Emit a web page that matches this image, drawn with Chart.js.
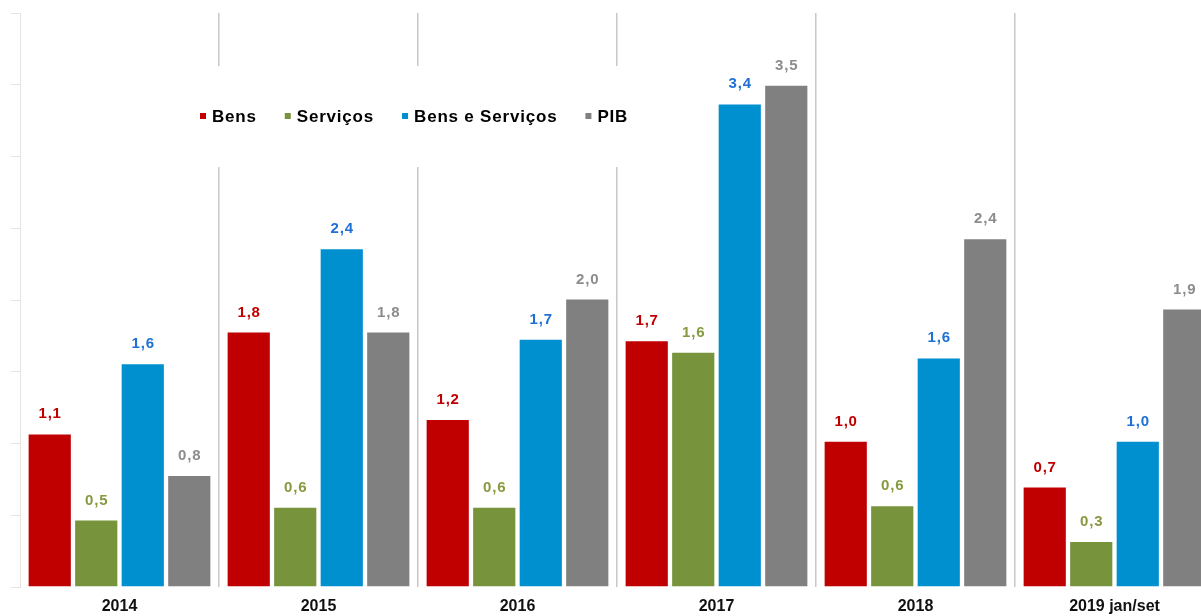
<!DOCTYPE html>
<html>
<head>
<meta charset="utf-8">
<script src="https://cdn.jsdelivr.net/npm/chart.js@4.4.1/dist/chart.umd.min.js"></script>
<style>
html,body{margin:0;padding:0;overflow:hidden;background:#fff;width:1201px;height:616px}
#wrap{position:absolute;left:0;top:0;width:1215px;height:616px}
</style>
</head>
<body>
<div id="wrap"><canvas id="c" width="1215" height="616"></canvas></div>
<script>
// ---- data ----
const categories = ['2014', '2015', '2016', '2017', '2018', '2019 jan/set'];
const seriesNames = ['Bens', 'Serviços', 'Bens e Serviços', 'PIB'];
const bens        = [1.07, 1.78, 1.17, 1.72, 1.02, 0.70];
const servicos    = [0.47, 0.56, 0.56, 1.64, 0.57, 0.32];
const bensServ    = [1.56, 2.36, 1.73, 3.37, 1.60, 1.02];
const pib         = [0.78, 1.78, 2.01, 3.50, 2.43, 1.94];
const yMin = 0, yMax = 4, yStep = 0.5;

// ---- styles ----
const FONT = '"Liberation Sans", Arial, sans-serif';
const barColors   = ['#c00000', '#77933c', '#0090d0', '#808080'];
const labelColors = ['#c00000', '#86993f', '#1f70d4', '#8c8c8c'];

function fmt(v){ return (Math.round(v * 10) / 10).toFixed(1).replace('.', ','); }

const valueLabels = {
  id: 'valueLabels',
  afterDatasetsDraw(chart){
    const ctx = chart.ctx;
    ctx.save();
    ctx.font = 'bold 15px ' + FONT;
    try { ctx.letterSpacing = '0.8px'; } catch(e) {}
    ctx.textAlign = 'center';
    ctx.textBaseline = 'alphabetic';
    chart.data.datasets.forEach((ds, i) => {
      const meta = chart.getDatasetMeta(i);
      meta.data.forEach((bar, j) => {
        ctx.fillStyle = labelColors[i];
        ctx.fillText(fmt(ds.data[j]), bar.x + 0.4, bar.y - 15);
      });
    });
    ctx.restore();
  }
};

const innerLegend = {
  id: 'innerLegend',
  beforeDatasetsDraw(chart){
    const ctx = chart.ctx;
    ctx.save();
    ctx.fillStyle = '#ffffff';
    ctx.fillRect(188, 66, 460, 101);
    ctx.restore();
  },
  afterDraw(chart){
    const ctx = chart.ctx;
    ctx.save();
    ctx.font = 'bold 17px ' + FONT;
    try { ctx.letterSpacing = '0.8px'; } catch(e) {}
    ctx.textBaseline = 'middle';
    ctx.textAlign = 'left';
    let x = 200;
    const y = 116;
    chart.data.datasets.forEach((ds, i) => {
      ctx.fillStyle = barColors[i];
      ctx.fillRect(x, y - 3, 6, 6);
      ctx.fillStyle = '#000';
      ctx.fillText(ds.label, x + 12, y + 1);
      x += 12 + ctx.measureText(ds.label).width + 28;
    });
    ctx.restore();
  }
};

const seriesData = [bens, servicos, bensServ, pib];

new Chart(document.getElementById('c'), {
  type: 'bar',
  data: {
    labels: categories,
    datasets: seriesNames.map((name, i) => ({
      label: name,
      data: seriesData[i],
      backgroundColor: barColors[i],
      borderColor: 'rgba(255,255,255,0.35)',
      borderWidth: 1,
      categoryPercentage: 0.935,
      barPercentage: 0.95
    }))
  },
  options: {
    responsive: false,
    animation: false,
    events: [],
    layout: { padding: { left: 0, top: 13, right: 1, bottom: 0 } },
    plugins: { legend: { display: false }, tooltip: { enabled: false } },
    scales: {
      x: {
        grid: {
          offset: true,
          drawTicks: false,
          color: (c) => c.index === 0 ? 'rgba(0,0,0,0)' : '#c8c8c8',
          lineWidth: 1.5
        },
        border: { display: false },
        ticks: { padding: 10, color: '#111', font: { family: FONT, size: 16, weight: 'bold' } },
        afterFit(s){ s.height = 29; }
      },
      y: {
        min: yMin, max: yMax,
        ticks: { display: false, stepSize: yStep },
        grid: { drawOnChartArea: false, drawTicks: true, tickLength: 9, color: '#e4e4e4' },
        border: { display: true, color: '#e4e4e4' },
        afterFit(s){ s.width = 20; }
      }
    }
  },
  plugins: [valueLabels, innerLegend]
});
</script>
</body>
</html>
